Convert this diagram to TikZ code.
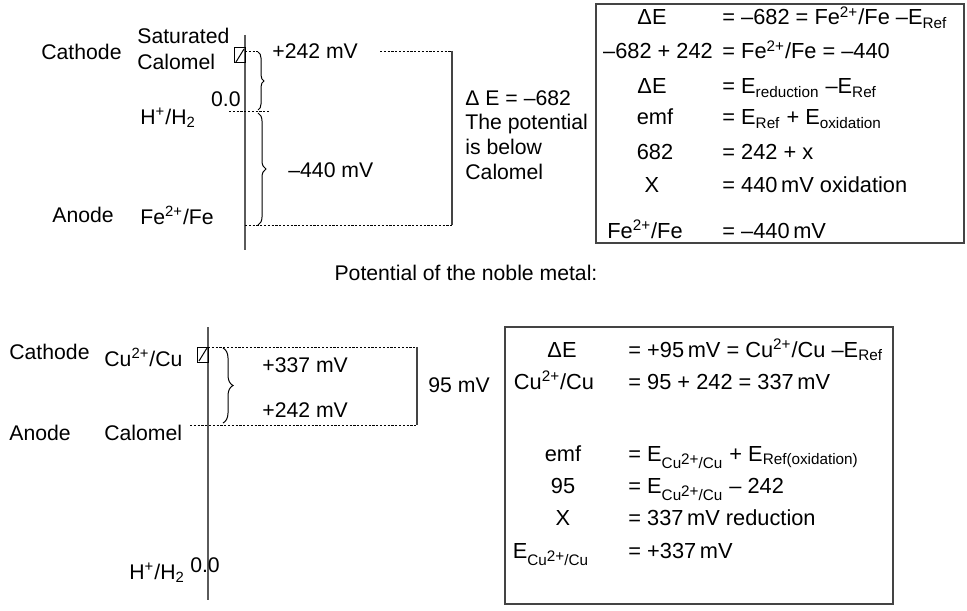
\documentclass[tikz,border=0pt]{standalone}
\usepackage{fontspec}
\setmainfont{Liberation Sans}
\usetikzlibrary{decorations.pathreplacing}
\definecolor{axisgrey}{HTML}{5A5A5A}
\definecolor{boxgrey}{HTML}{444444}
\newcommand{\Esub}[1]{E\textsubscript{#1}}
\newcommand{\chg}[1]{\textsuperscript{#1}}
\newcommand{\cuion}{Cu\raisebox{0.55ex}{2+}/Cu}

\begin{document}
\begin{tikzpicture}[x=0.5pt, y=-0.5pt,
  lbl/.style={inner sep=0pt, font=\fontsize{10.6}{12.5}\selectfont},
  eqn/.style={inner sep=0pt, font=\fontsize{10.9}{12.5}\selectfont},
  axisline/.style={axisgrey, line width=0.9pt},
  level/.style={line width=0.4pt, dash pattern=on 1.1pt off 0.8pt},
  span/.style={boxgrey, line width=0.6pt},
  brc/.style={decorate, decoration={brace, amplitude=#1}, line width=0.5pt},
  panel/.style={boxgrey, line width=0.7pt}]
  \useasboundingbox (0,0) rectangle (967,610);

  % --- upper scale: calomel against Fe
  \coordinate (axT) at (245,35);
  \coordinate (axB) at (245,250);
  \draw[axisline] (axT) -- (axB);
  \draw[line width=0.5pt] (234,48) rectangle (245,63);
  \draw[line width=0.5pt] (236,62) -- (244,49);

  \coordinate (cal) at (245,51);
  \coordinate (calA) at (258,51);
  \coordinate (calD) at (380,51);
  \coordinate (calR) at (452,51);
  \coordinate (hyd) at (229,111);
  \coordinate (hydR) at (270,111);
  \coordinate (fe) at (245,225);
  \coordinate (feR) at (452,225);
  \draw[level] (cal) -- (calA);
  \draw[level] (calD) -- (calR);
  \draw[level] (hyd) -- (hydR);
  \draw[level] (fe) -- (feR);
  \draw[span] (calR) -- (feR);
  \draw[brc=3pt] (258,52) -- (258,110);
  \draw[brc=4pt] (258,113) -- (258,225);

  \node[lbl, anchor=west] (cathA) at (41,52) {Cathode};
  \node[lbl, anchor=west, align=left, font=\fontsize{10.6}{13}\selectfont] (sce) at (137,49) {Saturated\\Calomel};
  \node[lbl, anchor=east] (zeroA) at (241,99) {0.0};
  \node[lbl, anchor=west] (hydA) at (140,118) {H\chg{+}/H\textsubscript{2}};
  \node[lbl, anchor=west] (mvA) at (272,51) {+242 mV};
  \node[lbl, anchor=west] (mvB) at (288,170) {–440 mV};
  \node[lbl, anchor=west] (anA) at (52,215) {Anode};
  \node[lbl, anchor=west] (feA) at (140,215) {Fe\chg{2+}/Fe};
  \node[lbl, anchor=west, align=left, font=\fontsize{10.6}{12.4}\selectfont] (dE) at (465,135)
    {Δ E = –682\\The potential\\is below\\Calomel};

  % upper results
  \draw[panel] (596,4) rectangle (964,243);
  \node[eqn, anchor=base] (la) at (652,25) {ΔE};
  \node[eqn, anchor=base west] (ra) at (722,25) {= –682 = Fe\chg{2+}/Fe –\Esub{Ref}};
  \node[eqn, anchor=base] (lb) at (658,59) {–682 + 242};
  \node[eqn, anchor=base west] (rb) at (722,59) {= Fe\chg{2+}/Fe = –440};
  \node[eqn, anchor=base] (lc) at (652,94) {ΔE};
  \node[eqn, anchor=base west] (rc) at (722,94) {= \Esub{reduction} –\Esub{Ref}};
  \node[eqn, anchor=base] (ld) at (655,125) {emf};
  \node[eqn, anchor=base west] (rd) at (722,125) {= \Esub{Ref} + \Esub{oxidation}};
  \node[eqn, anchor=base] (le) at (655,159) {682};
  \node[eqn, anchor=base west] (re) at (722,159) {= 242 + x};
  \node[eqn, anchor=base] (lf) at (652,192) {X};
  \node[eqn, anchor=base west] (rf) at (722,192) {= 440\,mV oxidation};
  \node[eqn, anchor=base] (lg) at (645,238) {Fe\chg{2+}/Fe};
  \node[eqn, anchor=base west] (rg) at (722,238) {= –440\,mV};

  \node[lbl] (title) at (466,273) {Potential of the noble metal:};

  % --- lower scale: Cu against calomel
  \coordinate (bxT) at (208,327);
  \coordinate (bxB) at (208,600);
  \draw[axisline] (bxT) -- (bxB);
  \draw[line width=0.5pt] (197,347) rectangle (208,362);
  \draw[line width=0.5pt] (199,361) -- (207,348);

  \coordinate (cu) at (208,347);
  \coordinate (cuR) at (417,347);
  \coordinate (calB) at (190,425);
  \coordinate (calBR) at (417,425);
  \draw[level] (cu) -- (cuR);
  \draw[level] (calB) -- (calBR);
  \draw[span] (cuR) -- (calBR);
  \draw[brc=5pt] (223,348) -- (223,423);

  \node[lbl, anchor=west] (cathB) at (9,352) {Cathode};
  \node[lbl, anchor=west] (cuB) at (104,357) {Cu\chg{2+}/Cu};
  \node[lbl, anchor=west] (mvC) at (262,365) {+337 mV};
  \node[lbl, anchor=west] (mvD) at (262,410) {+242 mV};
  \node[lbl, anchor=west] (mvE) at (428,385) {95 mV};
  \node[lbl, anchor=west] (anB) at (9,433) {Anode};
  \node[lbl, anchor=west] (calN) at (104,433) {Calomel};
  \node[lbl, anchor=west] (hydB) at (129,573) {H\chg{+}/H\textsubscript{2}};
  \node[lbl] (zeroB) at (205,565) {0.0};

  % lower results
  \draw[panel] (505,327) rectangle (893,604);
  \node[eqn, anchor=base] (lh) at (562,357) {ΔE};
  \node[eqn, anchor=base west] (rh) at (628,357) {= +95\,mV = Cu\chg{2+}/Cu –\Esub{Ref}};
  \node[eqn, anchor=base] (li) at (554,389) {Cu\chg{2+}/Cu};
  \node[eqn, anchor=base west] (ri) at (628,389) {= 95 + 242 = 337\,mV};
  \node[eqn, anchor=base] (lj) at (563,461) {emf};
  \node[eqn, anchor=base west] (rj) at (628,461) {= \Esub{\cuion} + \Esub{Ref(oxidation)}};
  \node[eqn, anchor=base] (lk) at (563,493) {95};
  \node[eqn, anchor=base west] (rk) at (628,493) {= \Esub{\cuion} – 242};
  \node[eqn, anchor=base] (ll) at (563,525) {X};
  \node[eqn, anchor=base west] (rl) at (628,525) {= 337\,mV reduction};
  \node[eqn, anchor=base] (lm) at (551,558) {\Esub{\cuion}};
  \node[eqn, anchor=base west] (rm) at (628,558) {= +337\,mV};
\end{tikzpicture}
\end{document}
